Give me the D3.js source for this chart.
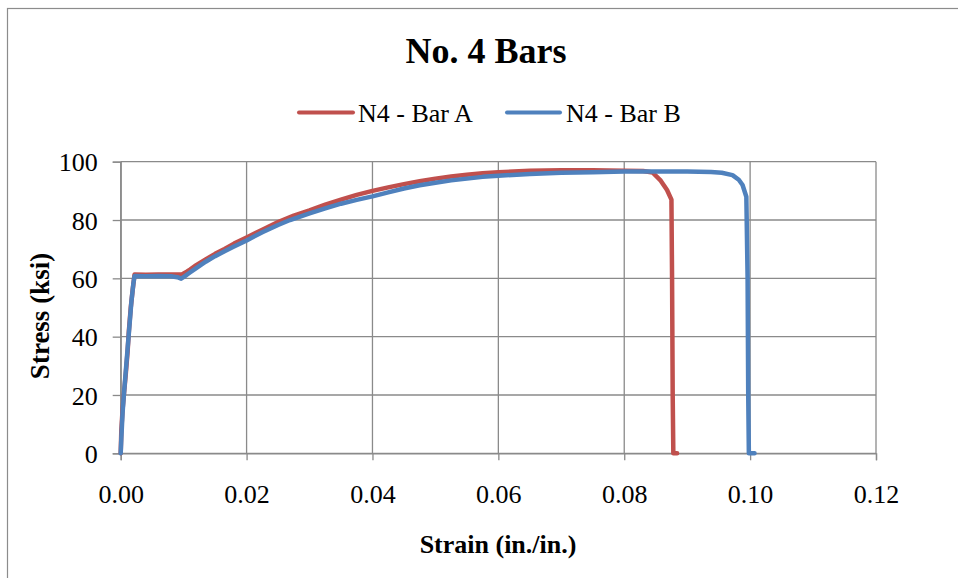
<!DOCTYPE html>
<html>
<head>
<meta charset="utf-8">
<script src="https://cdn.jsdelivr.net/npm/d3@7"></script>
<style>
  html, body { margin: 0; padding: 0; background: #fff; }
  svg { display: block; }
  text { font-family: "Liberation Serif", "Times New Roman", serif; fill: #000; }
</style>
</head>
<body>
<svg id="chart" width="958" height="578"></svg>
<script>
// ---- Data ----
const title = "No. 4 Bars";
const xTitle = "Strain (in./in.)";
const yTitle = "Stress (ksi)";
const seriesNames = ["N4 - Bar A", "N4 - Bar B"];
const xTicks = [0, 0.02, 0.04, 0.06, 0.08, 0.10, 0.12];
const yTicks = [0, 20, 40, 60, 80, 100];

// Bar A: [strain, stress]
const barA = [
  [0, 0], [0.0001, 8], [0.0003, 15], [0.0005, 20], [0.0008, 27], [0.0011, 35],
  [0.0013, 42], [0.0016, 50], [0.0019, 56], [0.0022, 61.3], [0.004, 61.2],
  [0.006, 61.3], [0.008, 61.3], [0.0098, 61.4], [0.0105, 62.3], [0.011, 63],
  [0.012, 64.5], [0.0135, 66.5], [0.015, 68.4], [0.0165, 70.1], [0.018, 71.9],
  [0.02, 74.0], [0.0225, 76.7], [0.025, 79.3], [0.0275, 81.5], [0.03, 83.3],
  [0.0325, 85.3], [0.035, 87.0], [0.0375, 88.6], [0.04, 90.0], [0.0425, 91.2],
  [0.045, 92.3], [0.0475, 93.3], [0.05, 94.2], [0.0525, 94.9], [0.055, 95.5],
  [0.0575, 96.0], [0.06, 96.4], [0.065, 96.9], [0.07, 97.1], [0.075, 97.1],
  [0.08, 96.9], [0.083, 96.8], [0.0845, 96.3], [0.0858, 93.5], [0.0868, 90.3],
  [0.0875, 87], [0.0876, 60], [0.0877, 20], [0.0878, 0], [0.0884, 0]
];
// Bar B: [strain, stress]
const barB = [
  [0, 0], [0.0001, 5], [0.0003, 14], [0.0005, 20], [0.0008, 28], [0.0011, 36],
  [0.0014, 44], [0.0017, 52], [0.002, 58], [0.0022, 60.8], [0.004, 60.7],
  [0.006, 60.8], [0.008, 60.7], [0.009, 60.4], [0.0096, 59.9], [0.0101, 60.6],
  [0.011, 62.0], [0.012, 63.5], [0.0135, 65.7], [0.015, 67.6], [0.0165, 69.3],
  [0.018, 70.9], [0.02, 73.0], [0.0225, 75.8], [0.025, 78.3], [0.0269, 80],
  [0.03, 82.3], [0.0325, 84.0], [0.035, 85.6], [0.0375, 86.9], [0.04, 88.1],
  [0.0425, 89.5], [0.045, 90.8], [0.0475, 91.9], [0.05, 92.8], [0.0525, 93.6],
  [0.055, 94.2], [0.0575, 94.8], [0.06, 95.2], [0.065, 95.8], [0.07, 96.2],
  [0.075, 96.4], [0.08, 96.6], [0.085, 96.6], [0.09, 96.6], [0.0938, 96.5],
  [0.0955, 96.2], [0.0972, 95.4], [0.0982, 93.8], [0.0988, 92], [0.0994, 88],
  [0.0996, 60], [0.0997, 20], [0.0998, 0], [0.1007, 0]
];
const seriesData = [barA, barB];
const colors = ["#C0504D", "#4F81BD"];

// ---- Layout ----
const svg = d3.select("#chart");
const plot = { left: 120.7, right: 876, top: 161.7, bottom: 453.3 };
const gridColor = "#8a8a8a";

// outer frame
svg.append("rect").attr("x", 7.5).attr("y", 8.5).attr("width", 1000).attr("height", 1000)
  .attr("fill", "#fff").attr("stroke", "#8c8c8c").attr("stroke-width", 1.2);

const x = d3.scaleLinear().domain([0, 0.12]).range([plot.left, plot.right]);
const y = d3.scaleLinear().domain([0, 100]).range([plot.bottom, plot.top]);

// gridlines
svg.append("g").selectAll("line").data(yTicks).join("line")
  .attr("x1", plot.left).attr("x2", plot.right)
  .attr("y1", d => y(d)).attr("y2", d => y(d))
  .attr("stroke", gridColor).attr("stroke-width", 1.3);
svg.append("g").selectAll("line").data(xTicks).join("line")
  .attr("x1", d => x(d)).attr("x2", d => x(d))
  .attr("y1", plot.top).attr("y2", plot.bottom)
  .attr("stroke", gridColor).attr("stroke-width", 1.3);

// axes
const xAxis = d3.axisBottom(x).tickValues(xTicks).tickFormat(d3.format(".2f")).tickSize(7).tickPadding(24);
const gx = svg.append("g").attr("transform", `translate(0,${plot.bottom})`).call(xAxis);
gx.select(".domain").attr("stroke", gridColor).attr("stroke-width", 1.3);
gx.selectAll(".tick line").attr("stroke", gridColor).attr("stroke-width", 1.3);
gx.selectAll(".tick text").attr("font-size", 26).attr("font-family", "Liberation Serif").attr("dy", "0.71em");

const yAxis = d3.axisLeft(y).tickValues(yTicks).tickFormat(d3.format("d")).tickSize(8).tickPadding(15);
const gy = svg.append("g").attr("transform", `translate(${plot.left},0)`).call(yAxis);
gy.select(".domain").attr("stroke", gridColor).attr("stroke-width", 1.3);
gy.selectAll(".tick line").attr("stroke", gridColor).attr("stroke-width", 1.3);
gy.selectAll(".tick text").attr("font-size", 26).attr("font-family", "Liberation Serif").attr("dy", "0.35em");

// series
const line = d3.line().x(d => x(d[0])).y(d => y(d[1]));
seriesData.forEach((s, i) => {
  svg.append("path").datum(s).attr("d", line)
    .attr("fill", "none").attr("stroke", colors[i]).attr("stroke-width", 4.5)
    .attr("stroke-linejoin", "round").attr("stroke-linecap", "round");
});

// title
svg.append("text").attr("x", 486).attr("y", 62.5).attr("text-anchor", "middle")
  .attr("font-size", 36).attr("font-weight", "bold").text(title);

// legend
const legendItems = [
  { x1: 299, x2: 353, tx: 358 },
  { x1: 507, x2: 560, tx: 566 }
];
legendItems.forEach((L, i) => {
  svg.append("line").attr("x1", L.x1).attr("x2", L.x2).attr("y1", 112.5).attr("y2", 112.5)
    .attr("stroke", colors[i]).attr("stroke-width", 4).attr("stroke-linecap", "round");
  svg.append("text").attr("x", L.tx).attr("y", 122).attr("font-size", 26).text(seriesNames[i]);
});

// axis titles
svg.append("text").attr("x", 498).attr("y", 553).attr("text-anchor", "middle")
  .attr("font-size", 26).attr("font-weight", "bold").text(xTitle);
svg.append("text").attr("transform", "translate(49,316) rotate(-90)").attr("text-anchor", "middle")
  .attr("font-size", 27).attr("font-weight", "bold").text(yTitle);
</script>
</body>
</html>
